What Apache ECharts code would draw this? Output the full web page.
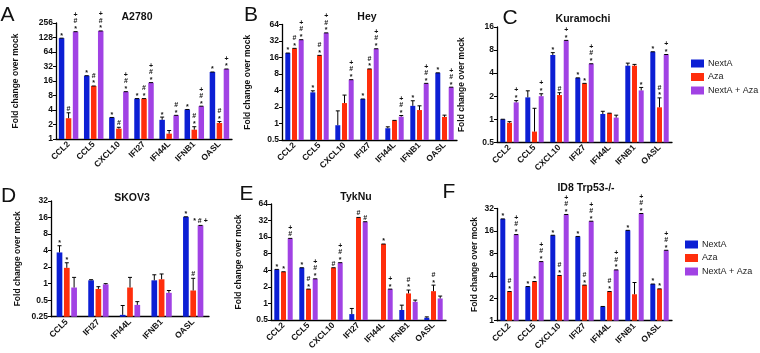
<!DOCTYPE html>
<html>
<head>
<meta charset="utf-8">
<script src="https://cdn.jsdelivr.net/npm/echarts@6/dist/echarts.min.js"></script>
<style>
  html, body { margin: 0; padding: 0; background: #fff; }
  #chart { width: 760px; height: 353px; }
</style>
</head>
<body>
<div id="chart"></div>
<script>
// ---- data (fold change over mock) ----
const genes7 = ['CCL2', 'CCL5', 'CXCL10', 'IFI27', 'IFI44L', 'IFNB1', 'OASL']
const genes5 = ['CCL5', 'IFI27', 'IFI44L', 'IFNB1', 'OASL']
const treatments = ['NextA', 'Aza', 'NextA + Aza']

// rows: NextA, Aza, NextA + Aza ; errTop = mean + SD (null = cap at mean)
const a2780Means = [
  [124, 20.6, 2.8, 6.9, 2.5, 4.1, 24.6],
  [2.7, 12.6, 1.64, 6.9, 1.29, 1.56, 2.15],
  [169, 175, 9.6, 14.8, 3.1, 4.8, 28.4]
]
const a2780ErrTop = [
  [null, null, null, null, 2.85, null, null],
  [3.5, null, 1.75, null, 1.5, 1.8, 2.3],
  [null, null, null, null, null, null, null]
]
const a2780Marks = [
  ['*', '*', '*', '*', '*', '*', '*'],
  ['#', '*#', '#', '*#', '', '*#', '*#'],
  ['*#+', '*#+', '*#+', '*#+', '*#', '*#+', '*+']
]

const heyMeans = [
  [19.3, 3.7, 0.93, 2.8, 0.82, 2.1, 8.4],
  [23.5, 17.5, 2.36, 9.9, 1.14, 1.76, 1.32],
  [33.8, 45, 6.3, 23.1, 1.33, 5.4, 4.6]
]
const heyErrTop = [
  [null, 3.95, 1.7, null, 0.87, 2.6, null],
  [null, null, 3.3, null, null, 2.1, 1.42],
  [null, null, null, null, 1.4, null, null]
]
const heyMarks = [
  ['*', '*', '', '*', '', '*', '*'],
  ['*#', '*#', '', '*#', '', '', ''],
  ['*#+', '*#+', '*#+', '*#+', '*#+', '*#+', '*#+']
]

const kuramochiMeans = [
  [1.0, 1.93, 6.9, 3.47, 1.17, 5.0, 7.6],
  [0.9, 0.69, 2.07, 2.94, 1.2, 5.0, 1.43],
  [1.66, 2.0, 10.7, 5.3, 1.05, 2.38, 7.0]
]
const kuramochiErrTop = [
  [null, 2.35, 7.4, null, 1.27, 5.4, null],
  [0.93, 1.39, 2.22, null, null, 5.2, 1.9],
  [1.75, 2.15, null, null, 1.13, 2.6, null]
]
const kuramochiMarks = [
  ['', '', '*', '*', '', '', '*'],
  ['', '', '#', '*', '', '', '*#'],
  ['*+', '*+', '*+', '*#+', '', '*', '*+']
]

const skov3Means = [
  [3.7, 1.15, 0.27, 1.15, 16.5],
  [1.94, 0.8, 0.85, 1.2, 0.75],
  [0.85, 0.97, 0.41, 0.68, 11.5]
]
const skov3ErrTop = [
  [4.9, 1.18, 0.4, 1.45, null],
  [2.4, 0.88, 1.3, 1.5, 1.25],
  [1.3, 1.0, 0.47, 0.75, null]
]
const skov3Marks = [
  ['*', '', '', '', '*'],
  ['*', '', '', '', '#'],
  ['', '', '', '', '* # +']
]

const tyknuMeans = [
  [4.15, 4.45, null, 0.64, null, 0.76, 0.55],
  [3.76, 1.82, 4.45, 36.5, 12, 1.52, 1.67],
  [15.2, 2.8, 5.5, 30.5, 1.82, 1.07, 1.23]
]
const tyknuErrTop = [
  [null, null, null, 0.81, null, 0.93, 0.57],
  [null, null, null, null, null, 1.75, 2.15],
  [null, null, null, null, null, 1.15, 1.36]
]
const tyknuMarks = [
  ['*', '*', '', '', '', '', ''],
  ['*', '*#', '#', '#', '*', '*#', '*#'],
  ['#+', '*#+', '*#+', '#', '*+', '', '']
]

const id8Means = [
  [23.2, 2.87, 14, 13.5, 1.55, 16.3, 3.1],
  [2.46, 3.35, 4.04, 3.0, 2.46, 2.26, 2.67],
  [14.3, 6.2, 26.6, 21.6, 4.8, 27.4, 8.8]
]
const id8ErrTop = [
  [null, null, null, null, null, null, null],
  [null, null, null, null, null, 3.25, null],
  [null, null, null, null, null, null, null]
]
const id8Marks = [
  ['*', '*', '*', '*', '', '*', '*'],
  ['*#', '*', '*#', '*#', '*#', '', '*'],
  ['*#+', '*#+', '*#+', '*#+', '*#+', '*#+', '*#+']
]

// ---- layout ----
const colors = ['#0c1fd4', '#ff2e0c', '#a142e4']
const FONT = 'Liberation Sans, Arial, Helvetica, sans-serif'

const panels = [
  { letter: 'A', letterPos: [7.5, 15], title: 'A2780', titlePos: [137, 17], genes: genes7,
    means: a2780Means, errTop: a2780ErrTop, marks: a2780Marks, yMin: 1, yMax: 256,
    grid: { left: 56, top: 23, width: 176, height: 116 }, nameGap: 36, barW: 5.5, pitch: 7 },
  { letter: 'B', letterPos: [251, 15], title: 'Hey', titlePos: [367, 17], genes: genes7,
    means: heyMeans, errTop: heyErrTop, marks: heyMarks, yMin: 0.5, yMax: 64,
    grid: { left: 282, top: 24.5, width: 175, height: 115.5 }, nameGap: 30, barW: 5, pitch: 6.7 },
  { letter: 'C', letterPos: [510, 18], title: 'Kuramochi', titlePos: [583, 19], genes: genes7,
    means: kuramochiMeans, errTop: kuramochiErrTop, marks: kuramochiMarks, yMin: 0.5, yMax: 16,
    grid: { left: 497, top: 27, width: 175, height: 115.3 }, nameGap: 31, barW: 5, pitch: 6.7 },
  { letter: 'D', letterPos: [8.5, 196], title: 'SKOV3', titlePos: [132, 198], genes: genes5,
    means: skov3Means, errTop: skov3ErrTop, marks: skov3Marks, yMin: 0.25, yMax: 32,
    grid: { left: 51, top: 201, width: 158, height: 115.7 }, nameGap: 29, barW: 5.7, pitch: 7.3 },
  { letter: 'E', letterPos: [246.5, 194], title: 'TykNu', titlePos: [356, 197], genes: genes7,
    means: tyknuMeans, errTop: tyknuErrTop, marks: tyknuMarks, yMin: 0.5, yMax: 64,
    grid: { left: 271, top: 204, width: 175, height: 116 }, nameGap: 28, barW: 5, pitch: 6.7 },
  { letter: 'F', letterPos: [449, 192], title: 'ID8 Trp53-/-', titlePos: [586, 188], genes: genes7,
    means: id8Means, errTop: id8ErrTop, marks: id8Marks, yMin: 1, yMax: 32,
    grid: { left: 497, top: 208.5, width: 175, height: 112.2 }, nameGap: 18, barW: 5, pitch: 6.7 }
]

function textStyle (text, x, y, size, weight) {
  return {
    text, x, y, fill: '#111',
    font: weight + ' ' + size + 'px ' + FONT,
    textAlign: 'center', textVerticalAlign: 'middle',
    align: 'center', verticalAlign: 'middle'
  }
}

function makeRenderer (p, g) {
  return function (params, api) {
    const k = api.value(0)
    const v = api.value(1)
    const e = api.value(2)
    const cs = params.coordSys
    const pt = api.coord([k, v])
    const groupW = p.barW + 2 * p.pitch
    const x = pt[0] - groupW / 2 + g * p.pitch
    const cx = x + p.barW / 2
    const bottom = cs.y + cs.height
    const top = Math.max(cs.y, pt[1])
    const eTop = Math.max(cs.y, api.coord([k, e])[1])
    const children = [
      { type: 'rect', shape: { x, y: top, width: p.barW, height: bottom - top }, style: { fill: colors[g] } },
      { type: 'line', shape: { x1: cx, y1: top, x2: cx, y2: eTop }, style: { stroke: '#000', lineWidth: 1 } },
      { type: 'line', shape: { x1: cx - 2, y1: eTop, x2: cx + 2, y2: eTop }, style: { stroke: '#000', lineWidth: 1 } }
    ]
    const mark = p.marks[g][k] || ''
    if (mark.indexOf(' ') >= 0) {
      children.push({ type: 'text', style: textStyle(mark, cx, eTop - 4, 7, 'bold') })
    } else {
      for (let j = 0; j < mark.length; j++) {
        const ch = mark[j]
        const y = eTop - 4 - j * 6.3 + (ch === '*' ? 1.5 : 0)
        children.push({ type: 'text', style: textStyle(ch, cx, y, 7, 'bold') })
      }
    }
    return { type: 'group', children }
  }
}

const grids = []
const xAxes = []
const yAxes = []
const series = []
const graphics = []

panels.forEach((p, i) => {
  grids.push(Object.assign({ containLabel: false }, p.grid))
  xAxes.push({
    type: 'category', gridIndex: i, data: p.genes,
    axisLine: { onZero: false, lineStyle: { color: '#000', width: 1.3 } },
    axisTick: { alignWithLabel: true, length: 3, lineStyle: { color: '#000', width: 1 } },
    axisLabel: { interval: 0, rotate: 45, fontSize: 8.5, fontWeight: 'bold', color: '#111', fontFamily: FONT, margin: 4 },
    splitLine: { show: false }
  })
  yAxes.push({
    type: 'log', logBase: 2, gridIndex: i, min: p.yMin, max: p.yMax,
    name: 'Fold change over mock', nameLocation: 'middle', nameGap: p.nameGap,
    nameTextStyle: { fontSize: 8.5, fontWeight: 'bold', color: '#111', fontFamily: FONT },
    axisLine: { show: true, onZero: false, lineStyle: { color: '#000', width: 1.3 } },
    axisTick: { show: true, length: 3, lineStyle: { color: '#000', width: 1 } },
    axisLabel: { fontSize: 8.5, fontWeight: 'bold', color: '#111', fontFamily: FONT, margin: 3 },
    splitLine: { show: false }
  })
  treatments.forEach((name, g) => {
    const data = []
    p.means[g].forEach((v, k) => {
      if (v == null) return
      const e = p.errTop[g][k]
      data.push([k, v, e == null ? v : e])
    })
    series.push({
      type: 'custom', name, xAxisIndex: i, yAxisIndex: i,
      itemStyle: { color: colors[g] },
      encode: { x: 0, y: 1 },
      clip: false, silent: true,
      renderItem: makeRenderer(p, g),
      data
    })
  })
  graphics.push({ type: 'text', x: 0, y: 0, style: textStyle(p.title, p.titlePos[0], p.titlePos[1], 10.5, 'bold') })
  graphics.push({ type: 'text', x: 0, y: 0, style: textStyle(p.letter, p.letterPos[0], p.letterPos[1], 21, 'normal') })
})

function legendAt (left, top) {
  return {
    data: treatments, orient: 'vertical', left, top,
    icon: 'rect', itemWidth: 13, itemHeight: 8, itemGap: 4.5,
    selectedMode: false,
    textStyle: { fontSize: 9, color: '#222', fontFamily: FONT, padding: [0, 0, 0, -1] }
  }
}

const chart = echarts.init(document.getElementById('chart'))
chart.setOption({
  animation: false,
  backgroundColor: '#fff',
  grid: grids,
  xAxis: xAxes,
  yAxis: yAxes,
  legend: [legendAt(686, 54), legendAt(680, 235)],
  graphic: graphics,
  series
})
</script>
</body>
</html>
